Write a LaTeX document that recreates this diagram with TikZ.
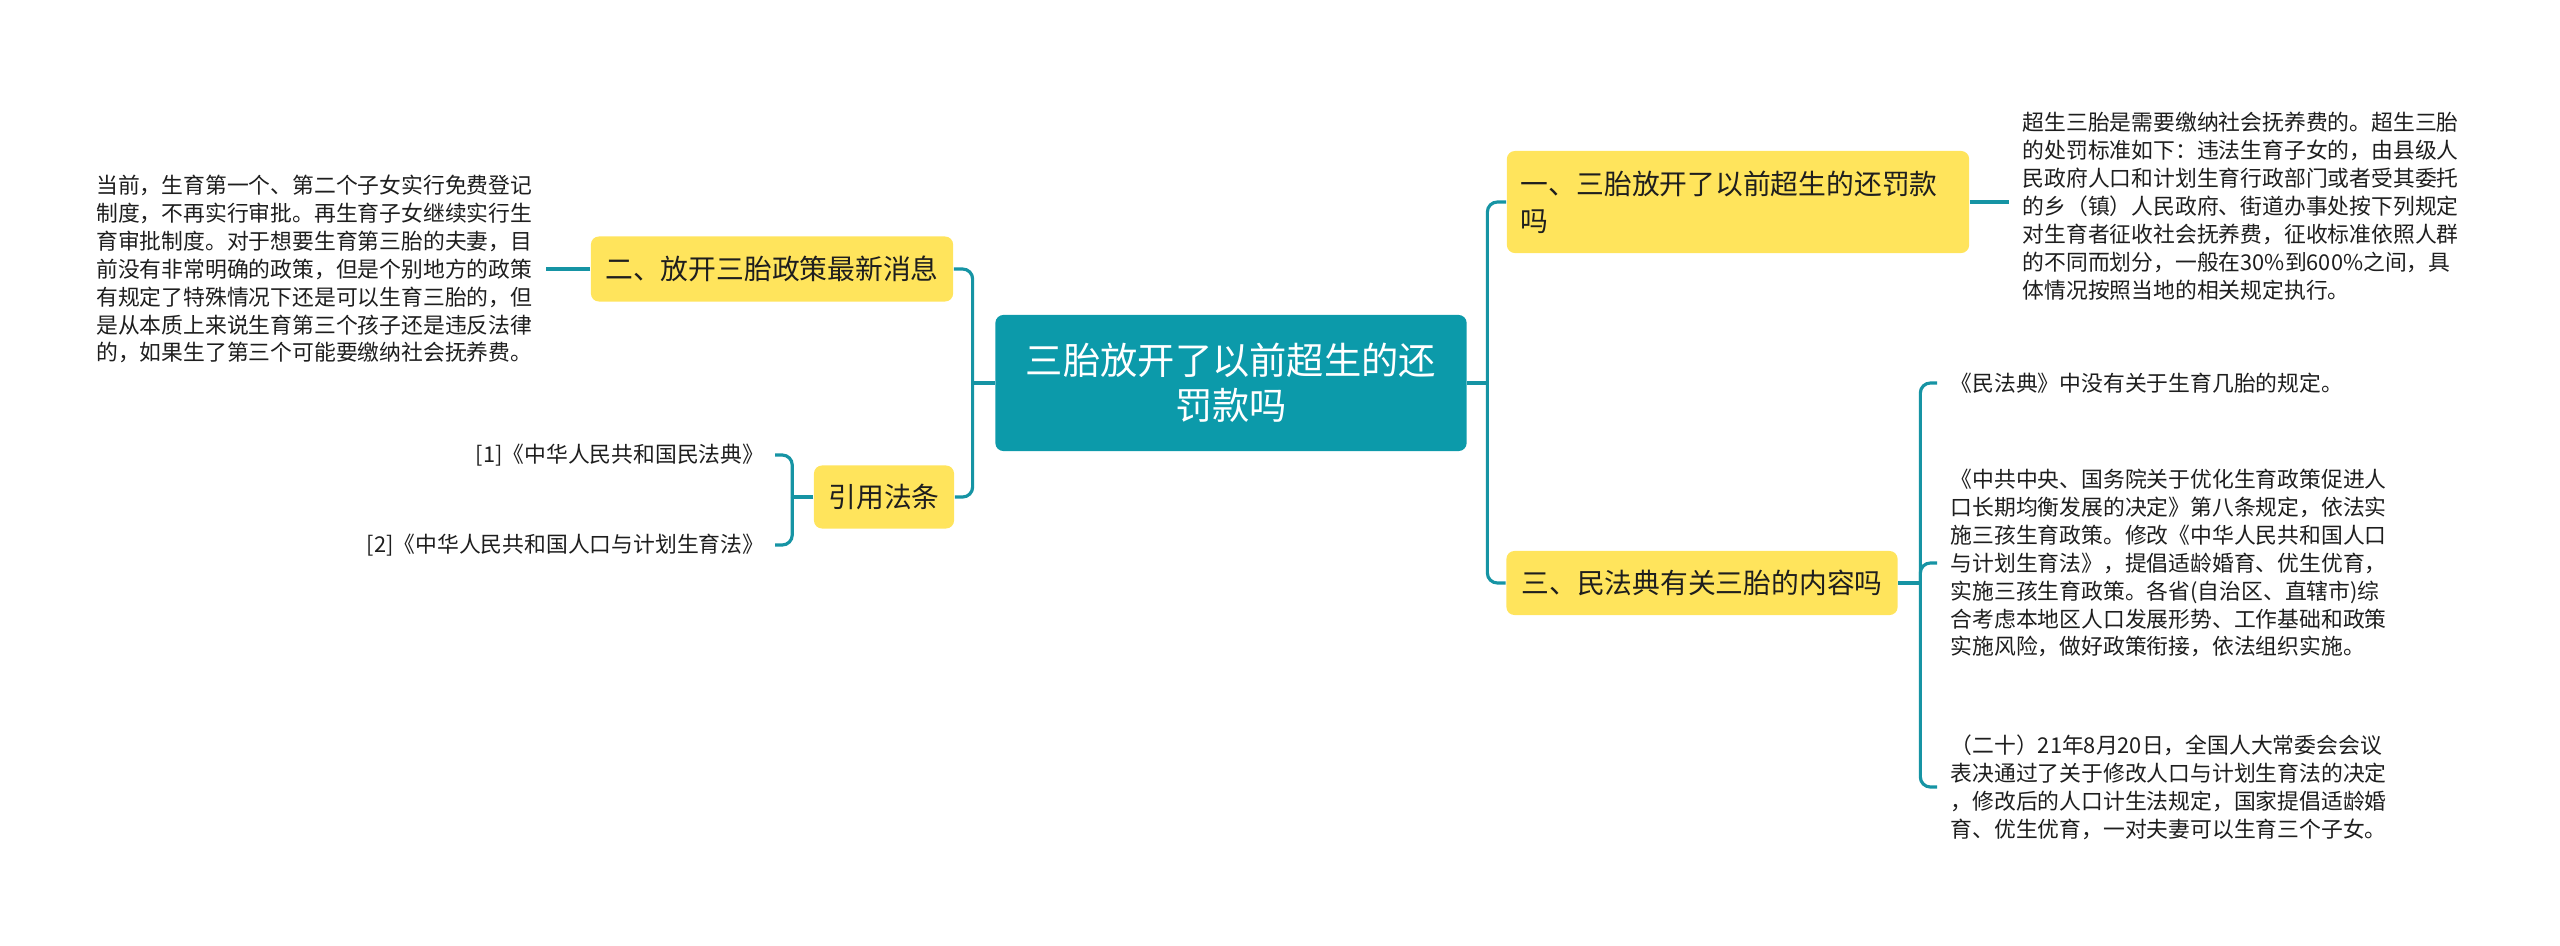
\documentclass[tikz,border=0pt]{standalone}
\usepackage{fontspec}
\setmainfont{Noto Sans CJK SC}
\usepackage{xcolor}
\usepackage{tikz}
\usetikzlibrary{positioning}
\definecolor{rootteal}{RGB}{12,154,170}
\definecolor{lineteal}{RGB}{22,148,164}
\definecolor{topicyellow}{RGB}{255,228,92}
\definecolor{darktext}{RGB}{30,30,30}

\begin{document}
\begin{tikzpicture}[
    x=0.01cm, y=-0.01cm,
    % Node styles
    root/.style={rectangle, rounded corners=0.08cm, fill=rootteal, text=white, align=center,
        minimum width=4.71cm, minimum height=1.36cm, font=\fontsize{10.6}{12.8}\selectfont},
    topic/.style={rectangle, rounded corners=0.08cm, fill=topicyellow, text=darktext,
        minimum height=0.64cm, inner xsep=0.14cm, font=\fontsize{7.9}{10.5}\selectfont},
    note/.style={align=left, text=darktext, inner xsep=0.13cm, inner ysep=0pt,
        font=\fontsize{6.2}{7.95}\selectfont},
    % Edge styles
    edge/.style={draw=lineteal, line width=0.9pt, rounded corners=0.1cm}
]
\useasboundingbox (0,0) rectangle (2560,945);

% Level 0 - Root
\node[root] (root) at (1231,383) {三胎放开了以前超生的还\\罚款吗};

% Level 1 - Right
\node[topic, text width=4.34cm, align=left, minimum height=1.02cm] (one) at (1738,202)
    {一、三胎放开了以前超生的还罚款\\吗};
\node[topic, minimum width=3.91cm] (three) at (1702,583) {三、民法典有关三胎的内容吗};

% Level 1 - Left
\node[topic, minimum width=3.62cm, minimum height=0.65cm] (two) at (772,269) {二、放开三胎政策最新消息};
\node[topic, minimum width=1.40cm, minimum height=0.63cm] (cite) at (884,497) {引用法条};

% Level 2 - From one
\node[note, anchor=west] (fine) at (2009,206) {超生三胎是需要缴纳社会抚养费的。超生三胎\\
的处罚标准如下：违法生育子女的，由县级人\\
民政府人口和计划生育行政部门或者受其委托\\
的乡（镇）人民政府、街道办事处按下列规定\\
对生育者征收社会抚养费，征收标准依照人群\\
的不同而划分，一般在30\%到600\%之间，具\\
体情况按照当地的相关规定执行。};

% Level 2 - From three
\node[note, anchor=west] (code1) at (1937,383) {《民法典》中没有关于生育几胎的规定。};
\node[note, anchor=west] (code2) at (1937,563) {《中共中央、国务院关于优化生育政策促进人\\
口长期均衡发展的决定》第八条规定，依法实\\
施三孩生育政策。修改《中华人民共和国人口\\
与计划生育法》，提倡适龄婚育、优生优育，\\
实施三孩生育政策。各省(自治区、直辖市)综\\
合考虑本地区人口发展形势、工作基础和政策\\
实施风险，做好政策衔接，依法组织实施。};
\node[note, anchor=west] (code3) at (1937,787) {（二十）21年8月20日，全国人大常委会会议\\
表决通过了关于修改人口与计划生育法的决定\\
，修改后的人口计生法规定，国家提倡适龄婚\\
育、优生优育，一对夫妻可以生育三个子女。};

% Level 2 - From two
\node[note, anchor=east] (news) at (546,269) {当前，生育第一个、第二个子女实行免费登记\\
制度，不再实行审批。再生育子女继续实行生\\
育审批制度。对于想要生育第三胎的夫妻，目\\
前没有非常明确的政策，但是个别地方的政策\\
有规定了特殊情况下还是可以生育三胎的，但\\
是从本质上来说生育第三个孩子还是违反法律\\
的，如果生了第三个可能要缴纳社会抚养费。};

% Level 2 - From cite
\node[note, anchor=east, inner xsep=0.1cm] (ref1) at (775,455) {[1]《中华人民共和国民法典》};
\node[note, anchor=east, inner xsep=0.1cm] (ref2) at (775,545) {[2]《中华人民共和国人口与计划生育法》};

% Joints
\coordinate (rjoin) at ([xshift=0.2cm]root.east);
\coordinate (ljoin) at ([xshift=-0.22cm]root.west);
\coordinate (cjoin) at ([xshift=-0.21cm]cite.west);
\coordinate (tjoin) at ([xshift=0.22cm]three.east);

% Draw all edges
\draw[edge] (root.east) -- (rjoin);
\draw[edge] (rjoin) |- (one.west);
\draw[edge] (rjoin) |- (three.west);

\draw[edge] (root.west) -- (ljoin);
\draw[edge] (ljoin) |- (two.east);
\draw[edge] (ljoin) |- (cite.east);

\draw[edge] (one.east) -- (one.east -| fine.west);
\draw[edge] (two.west) -- (two.west -| news.east);

\draw[edge] (cite.west) -- (cjoin);
\draw[edge] (cjoin) |- (ref1.east);
\draw[edge] (cjoin) |- (ref2.east);

\draw[edge] (three.east) -- (tjoin);
\draw[edge] (tjoin) |- (code1.west);
\draw[edge] (tjoin) |- (code2.west);
\draw[edge] (tjoin) |- (code3.west);

\end{tikzpicture}
\end{document}
